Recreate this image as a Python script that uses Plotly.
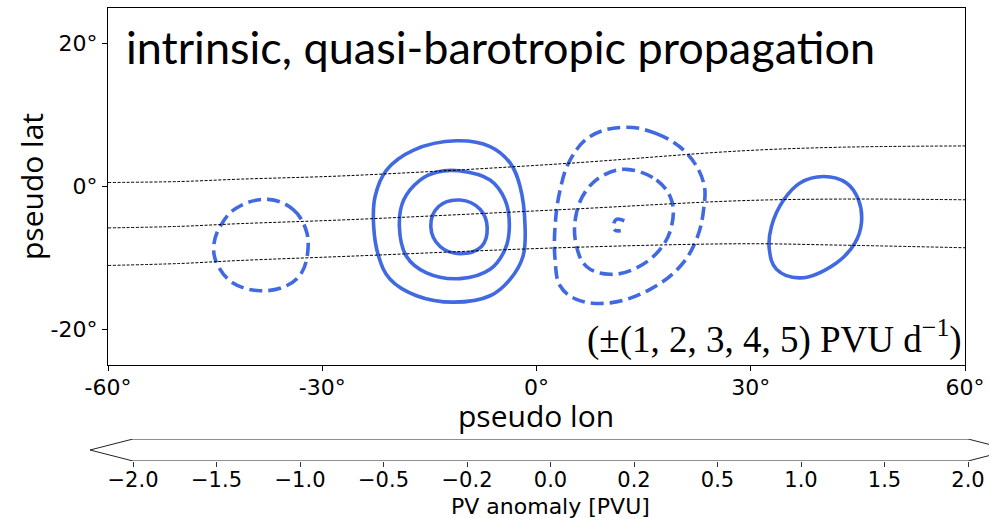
import plotly.graph_objects as go

# ---------------- data ----------------
# positive (solid) contour rings: lon / lat
pos_outer_lon = [-11.2, -6.5, -3.7, -2.3, -1.6, -1.9, -3.7, -6.5, -11.6, -16.8, -20.5, -22.1, -22.8, -22.6, -21.0, -17.2]
pos_outer_lat = [6.4, 5.6, 3.3, 0.0, -5.6, -9.8, -13.0, -15.3, -16.2, -15.3, -13.0, -9.8, -5.6, -1.4, 2.3, 5.1]
pos_mid_lon = [-10.9, -6.5, -4.4, -3.8, -4.4, -6.5, -10.7, -15.4, -18.2, -19.2, -18.6, -16.3, -14.0]
pos_mid_lat = [2.2, 0.9, -1.9, -5.6, -8.8, -11.6, -12.9, -12.1, -9.8, -5.6, -1.9, 0.9, 2.0]
pos_inner_lon = [-10.7, -7.9, -6.9, -7.7, -10.7, -13.5, -14.8, -13.7]
pos_inner_lat = [-1.9, -3.2, -5.8, -8.4, -9.4, -8.4, -5.6, -2.8]
pos_east_lon = [40.2, 43.4, 45.1, 45.5, 44.6, 42.0, 36.9, 33.6, 32.6, 32.9, 34.6, 36.9]
pos_east_lat = [1.4, 0.5, -1.9, -5.1, -7.9, -10.7, -12.8, -11.6, -8.8, -5.6, -1.9, 0.5]

# negative (dashed) contour rings
neg_west_lon = [-37.6, -34.1, -32.3, -32.0, -32.9, -35.0, -38.7, -42.5, -44.7, -45.2, -44.3, -42.0]
neg_west_lat = [-1.8, -3.2, -6.0, -8.8, -12.1, -13.9, -14.6, -13.5, -10.9, -8.4, -5.6, -3.0]
neg_outer_lon = [12.2, 16.8, 21.0, 23.4, 23.4, 22.4, 20.1, 15.9, 10.3, 5.6, 3.3, 2.6, 2.6, 3.3, 4.7, 7.5]
neg_outer_lat = [8.3, 7.4, 4.7, 0.5, -3.2, -7.4, -11.2, -14.4, -16.3, -15.8, -13.9, -10.2, -5.6, -0.5, 3.7, 7.0]
neg_inner_lon = [12.6, 16.8, 18.9, 18.9, 17.3, 14.0, 10.3, 7.0, 5.5, 5.6, 7.0, 9.4]
neg_inner_lat = [2.4, 0.9, -1.9, -5.6, -8.8, -11.4, -12.3, -11.2, -7.9, -3.7, -0.5, 1.6]
neg_core_lon = [12.3, 11.2, 10.8, 11.0, 11.8]
neg_core_lat = [-4.8, -4.6, -5.3, -6.1, -6.2]

# thin dashed reference lines
ref_lon = [-60, -49.9, -41.5, -26.1, 3.3, 28.5, 42.5, 60]
ref1_lat = [0.56, 0.70, 1.03, 1.53, 3.17, 4.98, 5.50, 5.68]
ref2_lat = [-5.80, -5.58, -5.20, -4.64, -3.25, -1.99, -1.76, -1.86]
ref3_lat = [-11.06, -10.78, -10.36, -9.76, -8.58, -8.02, -8.21, -8.58]

# axes ticks
lon_ticks = [-60, -30, 0, 30, 60]
lon_labels = ["-60°", "-30°", "0°", "30°", "60°"]
lat_ticks = [-20, 0, 20]
lat_labels = ["-20°", "0°", "20°"]

# colorbar
cbar_labels = ["−2.0", "−1.5", "−1.0", "−0.5", "−0.2", "0.0", "0.2", "0.5", "1.0", "1.5", "2.0"]
cbar_pos = list(range(len(cbar_labels)))

title_text = "intrinsic, quasi-barotropic propagation"
levels_text = "(±(1, 2, 3, 4, 5) PVU d<sup>−1</sup>)"

# ---------------- layout geometry ----------------
W, H = 989, 519
ML, MR, MT, MB = 90, 0, 8, 0
PW, PH = W - ML - MR, H - MT - MB


def px(x):
    return (x - ML) / PW


def py(y):
    return (H - MB - y) / PH


BLUE = "#4169E1"
fig = go.Figure()


def ring(lon, lat, dashed, closed=True):
    xs = list(lon) + ([lon[0]] if closed else [])
    ys = list(lat) + ([lat[0]] if closed else [])
    fig.add_trace(go.Scatter(
        x=xs, y=ys, mode="lines",
        line=dict(color=BLUE, width=3.6, shape="spline", smoothing=1.1,
                  dash="13px,6px" if dashed else "solid"),
        hoverinfo="skip", showlegend=False))


ring(pos_outer_lon, pos_outer_lat, False)
ring(pos_mid_lon, pos_mid_lat, False)
ring(pos_inner_lon, pos_inner_lat, False)
ring(pos_east_lon, pos_east_lat, False)
ring(neg_west_lon, neg_west_lat, True)
ring(neg_outer_lon, neg_outer_lat, True)
ring(neg_inner_lon, neg_inner_lat, True)
ring(neg_core_lon, neg_core_lat, True, closed=False)

for lats in (ref1_lat, ref2_lat, ref3_lat):
    fig.add_trace(go.Scatter(
        x=ref_lon, y=lats, mode="lines",
        line=dict(color="black", width=1, dash="3px,1.6px", shape="spline"),
        hoverinfo="skip", showlegend=False))

# colorbar outline (extend-both arrows)
n = len(cbar_labels) - 1
ext = 0.515
fig.add_trace(go.Scatter(
    x=[0, n, n + ext, n, 0, -ext, 0],
    y=[1, 1, 0.5, 0, 0, 0.5, 1],
    mode="lines", line=dict(color="#222222", width=1),
    xaxis="x2", yaxis="y2", hoverinfo="skip", showlegend=False))

tickfont = dict(family="DejaVu Sans", size=22, color="black")
cbfont = dict(family="DejaVu Sans", size=21, color="black")

fig.update_layout(
    width=W, height=H, autosize=False,
    margin=dict(l=ML, r=MR, t=MT, b=MB, pad=0, autoexpand=False),
    paper_bgcolor="white", plot_bgcolor="white",
    xaxis=dict(domain=[px(108), px(965)], range=[-60, 60],
               tickvals=lon_ticks, ticktext=lon_labels,
               ticks="outside", ticklen=5, tickcolor="black",
               ticklabelstandoff=-3,
               showline=True, mirror=True, linecolor="black", linewidth=1.2,
               showgrid=False, zeroline=False, tickfont=tickfont, anchor="y"),
    yaxis=dict(domain=[py(365), py(8)], range=[-25, 25],
               tickvals=lat_ticks, ticktext=lat_labels,
               ticks="outside", ticklen=5, tickcolor="black",
               showline=True, mirror=True, linecolor="black", linewidth=1.2,
               showgrid=False, zeroline=False, tickfont=tickfont, anchor="x"),
    xaxis2=dict(domain=[0, 1], range=[-ext, (989 - 133) / 83.5],
                tickvals=cbar_pos, ticktext=cbar_labels,
                ticks="outside", ticklen=5, tickcolor="#333333",
                ticklabelstandoff=-5,
                showline=False, showgrid=False, zeroline=False,
                tickfont=cbfont, anchor="y2"),
    yaxis2=dict(domain=[py(461), py(439)], range=[0, 1],
                showticklabels=False, ticks="", showline=False,
                showgrid=False, zeroline=False, anchor="x2"),
    annotations=[
        dict(text=title_text, xref="paper", yref="paper", x=px(124), y=py(47),
             xanchor="left", yanchor="middle", showarrow=False,
             font=dict(family="Lato", size=45, color="black")),
        dict(text=levels_text, xref="paper", yref="paper", x=px(964), y=py(337),
             xanchor="right", yanchor="middle", showarrow=False,
             font=dict(family="Liberation Serif", size=37, color="black")),
        dict(text="pseudo lon", xref="paper", yref="paper", x=px(536), y=py(415),
             xanchor="center", yanchor="middle", showarrow=False,
             font=dict(family="Open Sans", size=30, color="black")),
        dict(text="pseudo lat", xref="paper", yref="paper", x=px(31), y=py(186),
             xanchor="center", yanchor="middle", showarrow=False, textangle=-90,
             font=dict(family="Open Sans", size=30, color="black")),
        dict(text="PV anomaly [PVU]", xref="paper", yref="paper", x=px(550), y=py(506),
             xanchor="center", yanchor="middle", showarrow=False,
             font=dict(family="DejaVu Sans", size=22, color="black")),
    ],
)

fig.write_html("out.html", config={"responsive": False})
